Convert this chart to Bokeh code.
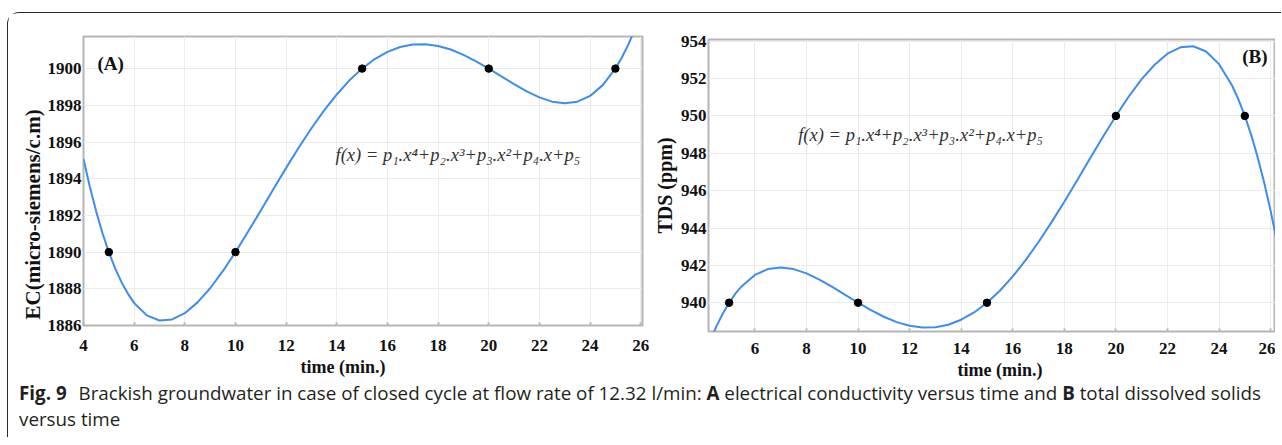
from bokeh.plotting import figure
from bokeh.models import Range1d, FixedTicker, Label, Div, Title
from bokeh.layouts import column, row
from bokeh.embed import file_html
from bokeh.resources import INLINE

# ---------------- Panel A : EC vs time ----------------
ec_time = [5, 10, 15, 20, 25]
ec_value = [1890, 1890, 1900, 1900, 1900]
ec_fit_time = [4.0, 4.25, 4.5, 4.75, 5.0, 5.25, 5.5, 5.75, 6.0, 6.5, 7.0, 7.5, 8.0, 8.5,
               9.0, 9.5, 10.0, 10.5, 11.0, 11.5, 12.0, 12.5, 13.0, 13.5, 14.0, 14.5,
               15.0, 15.5, 16.0, 16.5, 17.0, 17.5, 18.0, 18.5, 19.0, 19.5, 20.0, 20.5,
               21.0, 21.5, 22.0, 22.5, 23.0, 23.5, 24.0, 24.5, 25.0, 25.25, 25.5, 25.75, 26.0]
ec_fit_value = [1895.07, 1893.56, 1892.22, 1891.03, 1890.00, 1889.11, 1888.36, 1887.74,
                1887.23, 1886.55, 1886.27, 1886.33, 1886.67, 1887.26, 1888.03, 1888.96,
                1890.00, 1891.12, 1892.27, 1893.44, 1894.59, 1895.70, 1896.75, 1897.72,
                1898.59, 1899.36, 1900.00, 1900.52, 1900.91, 1901.18, 1901.31, 1901.33,
                1901.23, 1901.04, 1900.75, 1900.40, 1900.00, 1899.58, 1899.15, 1898.76,
                1898.43, 1898.20, 1898.11, 1898.20, 1898.51, 1899.10, 1900.00, 1900.59,
                1901.28, 1902.08, 1902.99]
ec_x_ticks = [4, 6, 8, 10, 12, 14, 16, 18, 20, 22, 24, 26]
ec_y_ticks = [1886, 1888, 1890, 1892, 1894, 1896, 1898, 1900]

# ---------------- Panel B : TDS vs time ----------------
tds_time = [5, 10, 15, 20, 25]
tds_value = [940, 940, 940, 950, 950]
tds_fit_time = [4.25, 4.5, 4.75, 5.0, 5.25, 5.5, 6.0, 6.5, 7.0, 7.5, 8.0, 8.5, 9.0, 9.5,
                10.0, 10.5, 11.0, 11.5, 12.0, 12.5, 13.0, 13.5, 14.0, 14.5, 15.0, 15.5,
                16.0, 16.5, 17.0, 17.5, 18.0, 18.5, 19.0, 19.5, 20.0, 20.5, 21.0, 21.5,
                22.0, 22.5, 23.0, 23.5, 24.0, 24.5, 24.75, 25.0, 25.25, 25.5, 25.75, 26.0, 26.25]
tds_fit_value = [937.92, 938.72, 939.41, 940.00, 940.50, 940.90, 941.49, 941.80, 941.89,
                 941.80, 941.57, 941.24, 940.85, 940.42, 940.00, 939.60, 939.25, 938.96,
                 938.77, 938.67, 938.69, 938.82, 939.09, 939.48, 940.00, 940.64, 941.41,
                 942.28, 943.25, 944.30, 945.41, 946.56, 947.73, 948.88, 950.00, 951.04,
                 951.97, 952.74, 953.33, 953.67, 953.73, 953.45, 952.77, 951.64, 950.89,
                 950.00, 948.97, 947.78, 946.44, 944.93, 943.24]
tds_x_ticks = [6, 8, 10, 12, 14, 16, 18, 20, 22, 24, 26]
tds_y_ticks = [940, 942, 944, 946, 948, 950, 952, 954]

x_title = "time (min.)"
ec_title = "EC(micro-siemens/c.m)"
tds_title = "TDS (ppm)"
equation = "f(x) = p\u2081.x\u2074+p\u2082.x\u00b3+p\u2083.x\u00b2+p\u2084.x+p\u2085"
tag_a = "(A)"
tag_b = "(B)"

SERIF = "Liberation Serif"
LINE_COLOR = "#3d8eea"
INK = "#111111"


def style(p, xt, yt, x_standoff):
    p.outline_line_color = "#b5b5b5"
    p.outline_line_width = 2
    p.background_fill_color = "white"
    p.border_fill_color = "white"
    p.xgrid.grid_line_color = "#ebebeb"
    p.ygrid.grid_line_color = "#ebebeb"
    p.xaxis.ticker = FixedTicker(ticks=xt)
    p.yaxis.ticker = FixedTicker(ticks=yt)
    p.axis.axis_line_color = None
    p.axis.minor_tick_line_color = None
    p.xaxis.major_tick_in = 3
    p.xaxis.major_tick_out = 0
    p.xaxis.major_tick_line_color = "#b5b5b5"
    p.xaxis.major_tick_line_width = 2
    p.yaxis.major_tick_in = 0
    p.yaxis.major_tick_out = 0
    p.axis.major_label_text_font = SERIF
    p.axis.major_label_text_font_style = "bold"
    p.axis.major_label_text_font_size = "17px"
    p.axis.major_label_text_color = INK
    p.xaxis.major_label_standoff = x_standoff
    p.yaxis.major_label_standoff = 2


def side_title(text, offset, size, standoff):
    return Title(text=text, align="left", offset=offset, standoff=standoff,
                 text_font=SERIF, text_font_style="bold", text_font_size=size,
                 text_color=INK)


# Panel A
pA = figure(width=642, height=374, x_range=Range1d(4, 26.07), y_range=Range1d(1886, 1901.75),
            output_backend="svg", toolbar_location=None,
            min_border_left=75, min_border_right=8, min_border_top=23, min_border_bottom=62)
style(pA, ec_x_ticks, ec_y_ticks, 14)
pA.line(ec_fit_time, ec_fit_value, line_color=LINE_COLOR, line_width=2)
pA.scatter(ec_time, ec_value, size=7.5, color="black")
pA.add_layout(side_title(ec_title, 6, "21px", 0), "left")
pA.add_layout(side_title(x_title, 217, "18px", 2), "below")
pA.add_layout(Label(x=4.55, y=1900.3, text=tag_a, text_align="left", text_baseline="middle",
                    text_font=SERIF, text_font_style="bold", text_font_size="19px",
                    text_color=INK))
pA.add_layout(Label(x=13.95, y=1895.27, text=equation, text_align="left", text_baseline="middle",
                    text_font=SERIF, text_font_style="italic", text_font_size="18.5px",
                    text_color="#333333"))

# Panel B
pB = figure(width=625, height=374, x_range=Range1d(4.2, 26.19), y_range=Range1d(938.46, 954.09),
            output_backend="svg", toolbar_location=None,
            min_border_left=56, min_border_right=0, min_border_top=26, min_border_bottom=56)
style(pB, tds_x_ticks, tds_y_ticks, 11)
pB.yaxis.axis_label = tds_title
pB.yaxis.axis_label_text_font = SERIF
pB.yaxis.axis_label_text_font_style = "bold"
pB.yaxis.axis_label_text_font_size = "20px"
pB.yaxis.axis_label_text_color = INK
pB.yaxis.axis_label_standoff = 2
pB.line(tds_fit_time, tds_fit_value, line_color=LINE_COLOR, line_width=2)
pB.scatter(tds_time, tds_value, size=7.5, color="black")
pB.add_layout(side_title(x_title, 249, "18px", 2), "below")
pB.add_layout(Label(x=25.88, y=953.2, text=tag_b, text_align="right", text_baseline="middle",
                    text_font=SERIF, text_font_style="bold", text_font_size="19px",
                    text_color=INK))
pB.add_layout(Label(x=7.68, y=948.96, text=equation, text_align="left", text_baseline="middle",
                    text_font=SERIF, text_font_style="italic", text_font_size="18.5px",
                    text_color="#333333"))

caption_html = ('<div style="position:relative; top:-7px">'
                '<b style="margin-right:7px">Fig. 9</b> Brackish groundwater in case of closed cycle '
                'at flow rate of 12.32 l/min: <b>A</b> electrical conductivity versus time and '
                '<b>B</b> total dissolved solids<br>versus time</div>')
cap = Div(text=caption_html, width=1273, height=50, margin=(0, 0, 0, 0),
          styles={"font-family": "Open Sans", "font-size": "18.8px", "line-height": "26px",
                  "color": "#231f20", "padding-left": "11px", "white-space": "nowrap",
                  "overflow": "visible"})

layout = column(row(column(pA), column(pB)), cap,
                styles={"border-top": "1px solid #2a2a2a", "border-left": "1px solid #2a2a2a",
                        "border-top-left-radius": "12px", "margin-top": "12px", "margin-left": "7px"})

open("out.html", "w").write(file_html(layout, INLINE))
